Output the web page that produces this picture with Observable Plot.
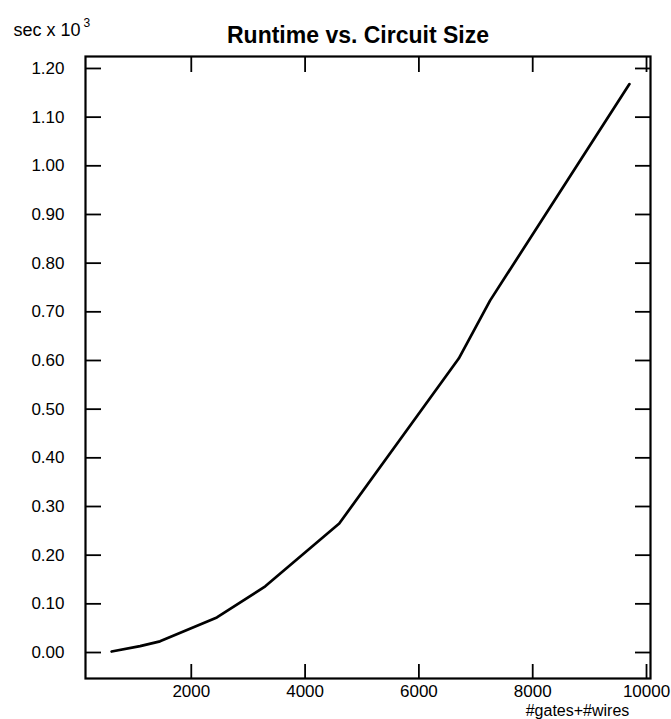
<!DOCTYPE html>
<html>
<head>
<meta charset="utf-8">
<script src="https://cdn.jsdelivr.net/npm/d3@7"></script>
<script src="https://cdn.jsdelivr.net/npm/@observablehq/plot@0.6"></script>
<style>
  html, body { margin: 0; padding: 0; background: #fff; }
  svg { display: block; }
</style>
</head>
<body>
<div id="chart"></div>
<script>
// Data
const circuitSize = [600, 1100, 1450, 2450, 3300, 4600, 6700, 7250, 9700];
const runtime = [0.002, 0.013, 0.023, 0.072, 0.136, 0.265, 0.604, 0.723, 1.168];
const xTicks = [2000, 4000, 6000, 8000, 10000];
const yTicks = [0, 0.1, 0.2, 0.3, 0.4, 0.5, 0.6, 0.7, 0.8, 0.9, 1.0, 1.1, 1.2];
const title = "Runtime vs. Circuit Size";
const yLabel = "sec x 10";
const yLabelExp = "3";
const xLabel = "#gates+#wires";

const data = circuitSize.map((x, i) => ({x, y: runtime[i]}));
const font = "Liberation Sans, Arial, Helvetica, sans-serif";

const chart = Plot.plot({
  width: 671,
  height: 719,
  marginLeft: 85,
  marginRight: 21,
  marginTop: 56,
  marginBottom: 41,
  style: {fontFamily: font, fontSize: "17px", color: "#000", background: "#fff"},
  x: {domain: [141, 10070]},
  y: {domain: [-0.0534, 1.2246]},
  marks: [
    Plot.frame({stroke: "#000", strokeWidth: 2.2}),
    // inward ticks (left, right, top, bottom)
    Plot.axisY(yTicks, {anchor: "right", frameAnchor: "left", tickSize: 15, fill: "none", label: null, strokeWidth: 1.8}),
    Plot.axisY(yTicks, {anchor: "left", frameAnchor: "right", tickSize: 15, fill: "none", label: null, strokeWidth: 1.8}),
    Plot.axisX(xTicks, {anchor: "bottom", frameAnchor: "top", tickSize: 16, fill: "none", label: null, strokeWidth: 1.8}),
    Plot.axisX(xTicks, {anchor: "top", frameAnchor: "bottom", tickSize: 15, fill: "none", label: null, strokeWidth: 1.8}),
    // tick labels
    Plot.axisY(yTicks, {anchor: "left", tickSize: 0, tickPadding: 21, tickFormat: d3.format(".2f"), label: null, fontSize: 17}),
    Plot.axisX(xTicks, {anchor: "bottom", tickSize: 0, tickPadding: 6, tickFormat: d => String(d), label: null, fontSize: 17}),
    // the series
    Plot.line(data, {x: "x", y: "y", stroke: "#000", strokeWidth: 2.7}),
    // title and axis labels
    Plot.text([title], {frameAnchor: "top", dx: -10, dy: -14, lineAnchor: "bottom", fontSize: 23, fontWeight: "bold", text: d => d}),
    Plot.text([yLabel], {frameAnchor: "top-left", dx: -72, dy: -21, lineAnchor: "bottom", textAnchor: "start", fontSize: 18, text: d => d}),
    Plot.text([yLabelExp], {frameAnchor: "top-left", dx: -2, dy: -30, lineAnchor: "bottom", textAnchor: "start", fontSize: 12, text: d => d}),
    Plot.text([xLabel], {frameAnchor: "bottom-right", dx: -73, dy: 37, lineAnchor: "bottom", textAnchor: "middle", fontSize: 16, text: d => d})
  ]
});
document.getElementById("chart").appendChild(chart);
</script>
</body>
</html>
